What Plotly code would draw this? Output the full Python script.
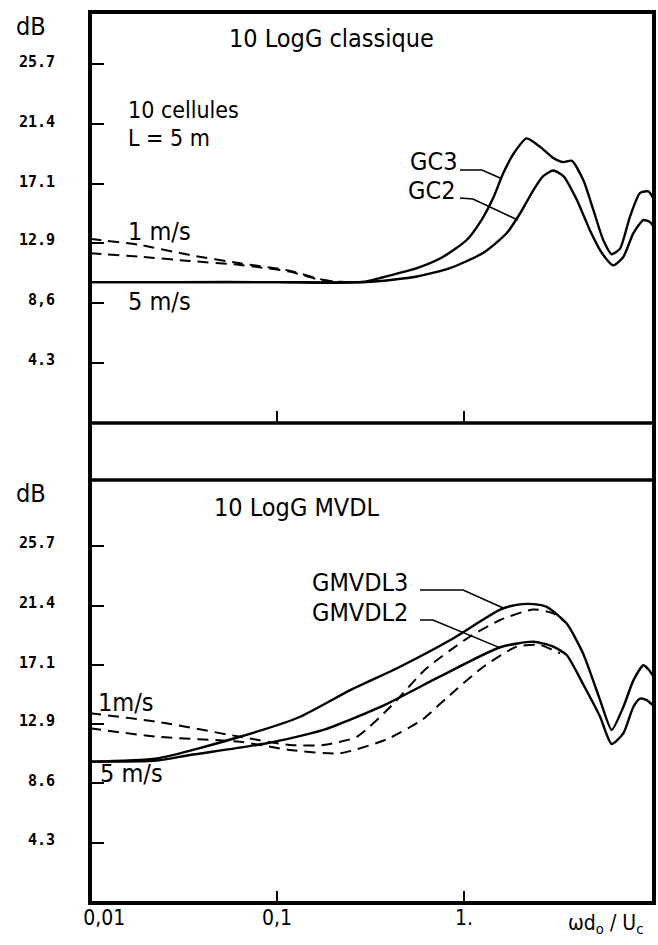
import plotly.graph_objects as go
from plotly.subplots import make_subplots

# ---------------- data (x = omega d0 / Uc, y = dB) ----------------
# Top panel : 10 LogG classique
gc3_solid_x = [0.01, 0.03, 0.1, 0.2, 0.3, 0.37, 0.56, 0.77, 1.03, 1.24, 1.44, 1.62, 1.84, 2.16,
               2.55, 3.0, 3.4, 3.77, 4.35, 4.91, 5.56, 6.16, 6.83, 7.72, 8.74, 9.68, 10.3]
gc3_solid_y = [10.1, 10.1, 10.1, 10.05, 10.15, 10.45, 11.1, 11.9, 13.1, 14.55, 16.2, 17.9, 19.3, 20.4,
               19.8, 19.0, 18.7, 18.8, 17.4, 15.3, 13.1, 12.1, 12.5, 14.8, 16.5, 16.6, 16.1]
gc2_solid_x = [0.01, 0.1, 0.3, 0.56, 0.84, 1.27, 1.69, 1.99, 2.35, 2.65, 3.0, 3.4, 4.01, 4.72,
               5.45, 6.28, 7.11, 8.04, 9.1, 9.88, 10.3]
gc2_solid_y = [10.1, 10.1, 10.1, 10.5, 11.1, 12.2, 13.6, 15.0, 16.7, 17.7, 18.1, 17.7, 16.0, 13.8,
               12.2, 11.3, 11.9, 13.6, 14.55, 14.4, 14.1]
gc3_dash_x = [0.01, 0.0185, 0.0343, 0.0634, 0.117, 0.163, 0.2, 0.25]
gc3_dash_y = [13.2, 12.76, 12.04, 11.45, 10.92, 10.37, 10.15, 10.1]
gc2_dash_x = [0.01, 0.0185, 0.0343, 0.0634, 0.117, 0.163, 0.2, 0.25]
gc2_dash_y = [12.16, 11.92, 11.61, 11.33, 10.85, 10.32, 10.15, 10.1]

# Bottom panel : 10 LogG MVDL
mv3_solid_x = [0.01, 0.0228, 0.0634, 0.133, 0.245, 0.455, 0.841, 1.56, 1.91, 2.35, 2.77, 3.54,
               4.35, 5.34, 6.16, 7.11, 8.04, 9.1, 9.7, 10.3]
mv3_solid_y = [10.17, 10.4, 11.96, 13.4, 15.3, 17.0, 18.9, 21.1, 21.45, 21.5, 21.3, 20.1,
               17.9, 14.6, 12.45, 14.1, 16.0, 17.1, 16.8, 16.3]
mv2_solid_x = [0.01, 0.0228, 0.0343, 0.0881, 0.177, 0.37, 0.745, 1.56, 2.35, 3.0, 3.54, 4.35,
               5.34, 6.16, 7.11, 8.04, 8.74, 9.48, 10.3]
mv2_solid_y = [10.17, 10.25, 10.65, 11.49, 12.45, 14.2, 16.3, 18.4, 18.8, 18.44, 17.84, 15.7,
               13.4, 11.44, 12.2, 14.1, 14.7, 14.6, 14.2]
mv3_dash_x = [0.01, 0.0228, 0.0634, 0.117, 0.177, 0.267, 0.41, 0.62, 1.03, 1.56, 2.35, 3.0, 3.54]
mv3_dash_y = [13.65, 13.04, 11.96, 11.37, 11.37, 11.96, 14.2, 16.8, 19.0, 20.36, 21.12, 20.84, 20.12]
mv2_dash_x = [0.01, 0.0228, 0.0634, 0.117, 0.217, 0.39, 0.6, 0.8, 1.27, 1.91, 2.55, 3.26]
mv2_dash_y = [12.57, 11.96, 11.6, 11.01, 10.77, 11.8, 13.2, 14.7, 17.0, 18.44, 18.56, 17.96]

# leader lines from the curve labels
lead_gc3_x = [0.952, 1.247, 1.56]
lead_gc3_y = [18.14, 18.14, 17.56]
lead_gc2_x = [0.952, 1.117, 1.94]
lead_gc2_y = [16.13, 16.06, 14.55]
lead_mv3_x = [0.582, 0.989, 1.62]
lead_mv3_y = [22.52, 22.52, 21.22]
lead_mv2_x = [0.582, 0.682, 1.56]
lead_mv2_y = [20.36, 20.36, 18.35]

# ticks
y_tickvals = [4.3, 8.6, 12.9, 17.1, 21.4, 25.7]
y_ticktext_top = ["4.3", "8,6", "12.9", "17.1", "21.4", "25.7"]
y_ticktext_bot = ["4.3", "8.6", "12.9", "17.1", "21.4", "25.7"]
x_tickvals = [0.01, 0.1, 1]
x_ticktext = ["\u2002\u2002\u20020,01", "0,1", "1."]

# ---------------- layout geometry (pixels) ----------------
W, H = 658, 945
L, R, T, B = 90, 4, 12, 42
PW, PH = W - L - R, H - T - B
Y_TOP_BOTTOM = 423   # bottom edge of upper panel
Y_BOT_TOP = 480      # top edge of lower panel


def px(xp):
    return (xp - L) / PW


def py(yp):
    return (H - B - yp) / PH


TXT = "DejaVu Sans Condensed, Liberation Sans Narrow, DejaVu Sans, sans-serif"
MONO = "DejaVu Sans Mono, monospace"
BLACK = "#000000"

fig = make_subplots(rows=2, cols=1)
fig.update_layout(
    xaxis=dict(domain=[0, 1], anchor="y"),
    yaxis=dict(domain=[py(Y_TOP_BOTTOM), 1], anchor="x"),
    xaxis2=dict(domain=[0, 1], anchor="y2"),
    yaxis2=dict(domain=[0, py(Y_BOT_TOP)], anchor="x2"),
)


def add_line(x, y, row, dash=None, width=2.4):
    fig.add_trace(go.Scatter(x=x, y=y, mode="lines", showlegend=False, hoverinfo="skip",
                             line=dict(color=BLACK, width=width, dash=dash,
                                       shape="spline", smoothing=0.6)), row=row, col=1)


DASH = "11px,7px"
add_line(gc3_dash_x, gc3_dash_y, 1, DASH, 2)
add_line(gc2_dash_x, gc2_dash_y, 1, DASH, 2)
add_line(gc3_solid_x, gc3_solid_y, 1)
add_line(gc2_solid_x, gc2_solid_y, 1)
add_line(mv3_dash_x, mv3_dash_y, 2, DASH, 2)
add_line(mv2_dash_x, mv2_dash_y, 2, DASH, 2)
add_line(mv3_solid_x, mv3_solid_y, 2)
add_line(mv2_solid_x, mv2_solid_y, 2)
for lx, ly, r in [(lead_gc3_x, lead_gc3_y, 1), (lead_gc2_x, lead_gc2_y, 1),
                  (lead_mv3_x, lead_mv3_y, 2), (lead_mv2_x, lead_mv2_y, 2)]:
    fig.add_trace(go.Scatter(x=lx, y=ly, mode="lines", showlegend=False, hoverinfo="skip",
                             line=dict(color=BLACK, width=1.5)), row=r, col=1)

XR = [-2, 1.016]
common_x = dict(type="log", range=XR, showgrid=False, zeroline=False, showline=False,
                ticks="inside", ticklen=12, tickwidth=2, tickcolor=BLACK)
fig.update_xaxes(**common_x, tickvals=[0.1, 1], showticklabels=False, row=1, col=1)
fig.update_xaxes(**common_x, tickvals=x_tickvals, ticktext=x_ticktext, showticklabels=True,
                 tickfont=dict(family=TXT, size=21, color=BLACK), row=2, col=1)

common_y = dict(showgrid=False, zeroline=False, showline=False, ticks="inside", ticklen=14,
                tickwidth=2, tickcolor=BLACK, tickvals=y_tickvals,
                tickfont=dict(family=MONO, size=15, color=BLACK, weight="bold"),
                ticklabelstandoff=34, ticklabelshift=-3)
fig.update_yaxes(**common_y, range=[0, (Y_TOP_BOTTOM - T) / 13.95], ticktext=y_ticktext_top,
                 row=1, col=1)
fig.update_yaxes(**common_y, range=[0, (H - B - Y_BOT_TOP) / 13.9], ticktext=y_ticktext_bot,
                 row=2, col=1)

# frame
shapes = [
    dict(type="rect", xref="paper", yref="paper", x0=0, x1=1, y0=0, y1=1,
         line=dict(color=BLACK, width=4)),
    dict(type="line", xref="paper", yref="paper", x0=0, x1=1, y0=py(Y_TOP_BOTTOM), y1=py(Y_TOP_BOTTOM),
         line=dict(color=BLACK, width=3.5)),
    dict(type="line", xref="paper", yref="paper", x0=0, x1=1, y0=py(Y_BOT_TOP), y1=py(Y_BOT_TOP),
         line=dict(color=BLACK, width=3.5)),
]

ann = []


def text(t, xp, yp, size=25, xanchor="left", family=TXT):
    ann.append(dict(text=t, xref="paper", yref="paper", x=px(xp), y=py(yp), showarrow=False,
                    xanchor=xanchor, yanchor="middle", font=dict(family=family, size=size, color=BLACK)))


text("dB", 14, 26)
text("dB", 14, 493)
text("10 LogG classique", 227, 39)
text("10 cellules", 126, 110, size=23)
text("L = 5 m", 126, 138, size=23)
text("1 m/s", 126, 231)
text("5 m/s", 126, 302)
text("GC3", 408, 161)
text("GC2", 406, 191)
text("10 LogG MVDL", 212, 507)
text("GMVDL3", 310, 582)
text("GMVDL2", 310, 613)
text("1m/s", 96, 702)
text("5 m/s", 98, 773)
text("ωd<sub>o</sub> / U<sub>c</sub>", 645, 924, size=21, xanchor="right")

fig.update_layout(width=W, height=H, margin=dict(l=L, r=R, t=T, b=B),
                  paper_bgcolor="white", plot_bgcolor="white",
                  shapes=shapes, annotations=ann, showlegend=False)

fig.write_html("out.html", config={"displayModeBar": False},
               post_script="document.body.style.margin='0px';")
